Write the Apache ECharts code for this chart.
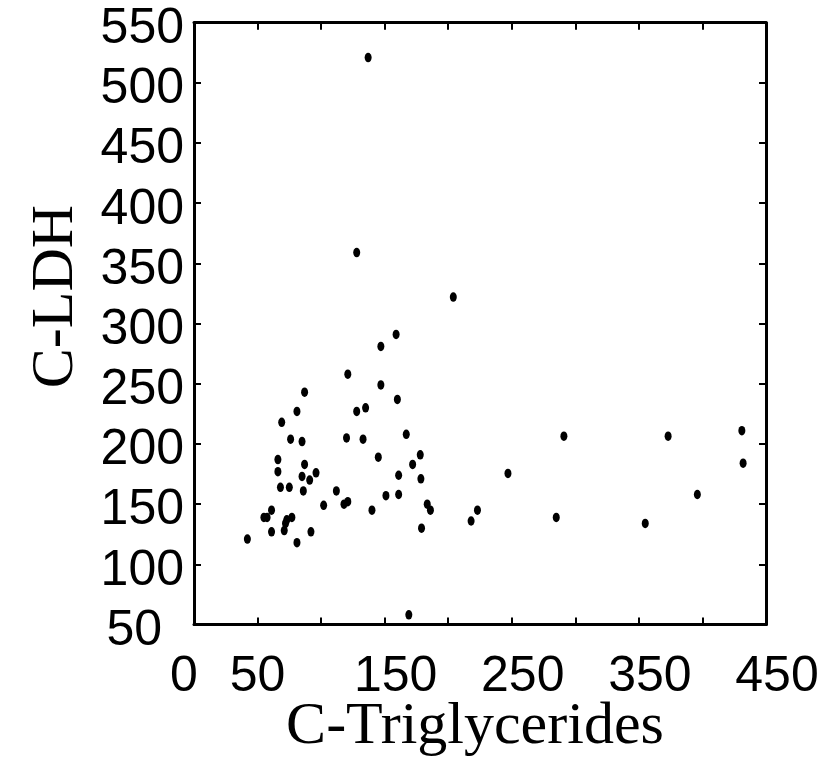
<!DOCTYPE html>
<html>
<head>
<meta charset="utf-8">
<script src="https://cdn.jsdelivr.net/npm/echarts@6/dist/echarts.min.js"></script>
<style>html,body{margin:0;padding:0;background:#fff;}#chart{width:827px;height:758px;}</style>
</head>
<body>
<div id="chart"></div>
<script>
// C-Triglycerides (x) and C-LDH (y)
var triglycerides = [159,147,121,147,87,160,128,135,81,69,76,85,120,133,167,66,145,178,66,87,172,85,96,91,161,178.5,68,75,86,112,102,118,121,151,161,183.5,186,140,61,55,57.5,77,73,72,61,71,92,179,42,81,169,218,223,204,291,373,431,432,247,396,285,355,137,128];
var ldh =           [291,281,258,249,243,237,227,230,227,218,204,202,205,204,208,187,189,191,177,183,183,173,176,170,174,171,164,164,161,161,149,150,152,157,158,150,145,145,145,139,139,139,137,134,127,128,127,130,121,118,58,136,145,322,206.5,206.5,211,184,175.5,158,139,134,521,359];
var xLabelValues = [0, 50, 150, 250, 350, 450];
var yTicks = [50,100,150,200,250,300,350,400,450,500,550];

var points = triglycerides.map(function (v, i) { return [v, ldh[i]]; });

var sans = 'Liberation Sans, Arial, sans-serif';
var serif = 'Liberation Serif, Times New Roman, serif';
var FS = 50;
var chart = echarts.init(document.getElementById('chart'));
chart.setOption({
  animation: false,
  backgroundColor: '#fff',
  grid: { left: 194, right: 61, top: 22.7, bottom: 133.5, show: false, containLabel: false, outerBoundsMode: 'none' },
  xAxis: [{
    type: 'value', min: 0, max: 450, interval: 50, position: 'bottom',
    name: 'C-Triglycerides', nameLocation: 'middle', nameGap: 73, nameMoveOverlap: false,
    nameTextStyle: { fontFamily: serif, fontSize: 60, color: '#000', padding: [0, 10, 0, 0] },
    axisLine: { show: true, onZero: false, lineStyle: { color: '#000', width: 3 } },
    axisTick: { show: true, inside: true, length: 7, lineStyle: { color: '#000', width: 2 } },
    splitLine: { show: false },
    axisLabel: {
      margin: 28, fontFamily: sans, fontSize: FS, color: '#000',
      formatter: function (v) {
        if (xLabelValues.indexOf(v) < 0) return '';
        if (v === 0) return '{z|0}';
        if (v === 50) return '{c|50}';
        return '{r|' + v + '}';
      },
      rich: {
        z: { fontFamily: sans, fontSize: FS, color: '#000', padding: [0, 20, 0, 0] },
        c: { fontFamily: sans, fontSize: FS, color: '#000' },
        r: { fontFamily: sans, fontSize: FS, color: '#000', padding: [0, 0, 0, 22] }
      }
    }
  }, {
    type: 'value', min: 0, max: 450, interval: 50, position: 'top',
    axisLine: { show: true, onZero: false, lineStyle: { color: '#000', width: 3 } },
    axisTick: { show: true, inside: true, length: 7, lineStyle: { color: '#000', width: 2 } },
    axisLabel: { show: false }, splitLine: { show: false }
  }],
  yAxis: [{
    type: 'value', min: 50, max: 550, interval: 50, position: 'left',
    name: 'C-LDH', nameLocation: 'middle', nameGap: 108, nameRotate: 90, nameMoveOverlap: false,
    nameTextStyle: { fontFamily: serif, fontSize: 60, color: '#000', padding: [0, 0, 0, 54] },
    axisLine: { show: true, onZero: false, lineStyle: { color: '#000', width: 3 } },
    axisTick: { show: true, inside: true, length: 7, lineStyle: { color: '#000', width: 2 } },
    splitLine: { show: false },
    axisLabel: {
      margin: 10, padding: [13, 0, 0, 0], fontFamily: sans, fontSize: FS, color: '#000',
      formatter: function (v) {
        if (yTicks.indexOf(v) < 0) return '';
        if (v === 50) return '{f|50}';
        return String(v);
      },
      rich: { f: { fontFamily: sans, fontSize: FS, color: '#000', padding: [0, 22, 0, 0] } }
    }
  }, {
    type: 'value', min: 50, max: 550, interval: 50, position: 'right',
    axisLine: { show: true, onZero: false, lineStyle: { color: '#000', width: 3 } },
    axisTick: { show: true, inside: true, length: 7, lineStyle: { color: '#000', width: 2 } },
    axisLabel: { show: false }, splitLine: { show: false }
  }],
  series: [{
    type: 'scatter',
    xAxisIndex: 0, yAxisIndex: 0,
    data: points,
    symbol: 'path://M0,-10A10,10,0,1,1,0,10A10,10,0,1,1,0,-10Z',
    symbolSize: [7, 9.5],
    itemStyle: { color: '#000', opacity: 1 }
  }]
});
</script>
</body>
</html>
